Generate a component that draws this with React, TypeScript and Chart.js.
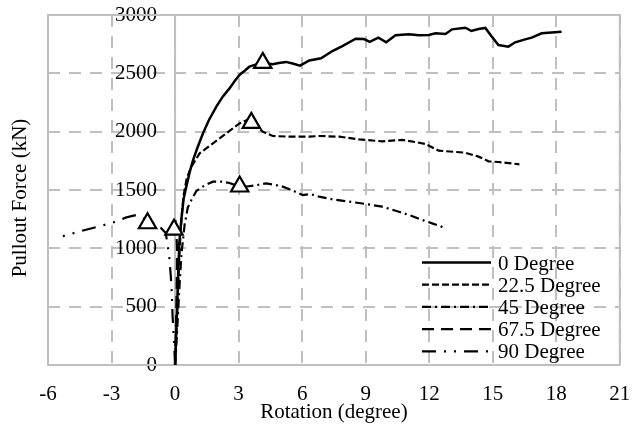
import React, { useEffect, useRef } from 'react';
import { Chart, registerables } from 'chart.js';

Chart.register(...registerables);

const X_MIN = -6;
const X_MAX = 21;
const X_STEP = 3;
const Y_MIN = 0;
const Y_MAX = 3000;
const Y_STEP = 500;

const xTitle = 'Rotation (degree)';
const yTitle = 'Pullout Force (kN)';
const seriesNames = ['0 Degree', '22.5 Degree', '45 Degree', '67.5 Degree', '90 Degree'];

const rot0 = [0, 0.05, 0.1, 0.15, 0.2, 0.3, 0.4, 0.53, 0.7, 0.85, 1.05, 1.32, 1.6, 1.95, 2.25, 2.57, 2.8, 3.04, 3.3, 3.51, 3.8, 4.14, 4.61, 4.9, 5.24, 5.55, 5.9, 6.34, 6.89, 7.43, 7.9, 8.53, 8.92, 9.19, 9.6, 9.97, 10.41, 11.04, 11.51, 11.98, 12.3, 12.77, 13.08, 13.71, 13.99, 14.33, 14.65, 14.96, 15.27, 15.74, 16.06, 16.53, 16.84, 17.31, 17.78, 18.25];
const force0 = [0, 250, 500, 800, 1050, 1250, 1420, 1529, 1660, 1757, 1860, 1986, 2100, 2214, 2300, 2371, 2430, 2486, 2525, 2557, 2575, 2590, 2578, 2588, 2598, 2584, 2566, 2610, 2629, 2691, 2734, 2797, 2794, 2769, 2806, 2766, 2826, 2834, 2826, 2829, 2843, 2837, 2877, 2891, 2863, 2880, 2889, 2814, 2743, 2729, 2766, 2791, 2806, 2843, 2851, 2857];

const rot22 = [0, 0.08, 0.15, 0.22, 0.3, 0.4, 0.55, 0.77, 1.16, 1.79, 2.42, 3.04, 3.4, 3.8, 4.14, 4.61, 5.4, 6.34, 6.8, 7.75, 8.69, 9.78, 10.73, 11.35, 11.83, 12.45, 13.7, 14.33, 14.8, 15.27, 16.26];
const force22 = [0, 350, 700, 1000, 1250, 1450, 1600, 1700, 1814, 1900, 1986, 2071, 2100, 2060, 2000, 1963, 1957, 1957, 1963, 1957, 1934, 1917, 1929, 1911, 1894, 1837, 1820, 1786, 1746, 1740, 1720];

const rot45 = [0, 0.1, 0.2, 0.3, 0.45, 0.6, 0.77, 1.0, 1.4, 1.79, 2.2, 2.57, 3.04, 3.4, 3.8, 4.3, 4.7, 5.08, 5.5, 6.02, 6.4, 6.8, 7.43, 8.22, 9.0, 9.78, 10.57, 11.04, 11.67, 12.14, 12.45, 12.77];
const force45 = [0, 300, 650, 950, 1200, 1350, 1414, 1490, 1540, 1571, 1571, 1560, 1529, 1530, 1540, 1557, 1545, 1529, 1500, 1457, 1465, 1443, 1420, 1400, 1380, 1357, 1314, 1286, 1243, 1214, 1195, 1171];

const rot67 = [0, 0.04, 0.07, 0.09, 0.09, 0.07, 0.03, 0.0];
const force67 = [0, 300, 600, 850, 1000, 1100, 1200, 1290];

const rot90 = [0, -0.05, -0.12, -0.15, -0.2, -0.27, -0.33, -0.44, -0.8, -1.3, -1.82, -2.3, -2.92, -3.54, -4.4, -5.11, -5.66];
const force90 = [0, 200, 430, 600, 760, 917, 1000, 1131, 1200, 1240, 1286, 1265, 1222, 1190, 1150, 1114, 1086];

const peakRot = [4.14, 3.6, 3.05, -0.05, -1.3];
const peakForce = [2590, 2075, 1530, 1160, 1215];

const rotSeries = [rot0, rot22, rot45, rot67, rot90];
const forceSeries = [force0, force22, force45, force67, force90];

const FONT = 'Liberation Serif';
const GRID = '#BFBFBF';
const GRID_DASH = [12, 9];
// y tick labels sit just left of the x = 0 axis line
const Y_LABEL_ANCHOR = -0.85;
const lineStyles = [
  { dash: [] as number[], width: 2.5 },
  { dash: [7, 3], width: 2.2 },
  { dash: [9, 4, 2, 4], width: 2.2 },
  { dash: [12, 7], width: 2.2 },
  { dash: [14, 8, 2, 8, 2, 8], width: 2.2 },
];

const framePlugin = {
  id: 'frame',
  beforeDatasetsDraw(chart: any) {
    const { ctx, chartArea } = chart;
    const { left, right, top, bottom } = chartArea;
    ctx.save();
    ctx.strokeStyle = GRID;
    ctx.lineWidth = 2;
    ctx.setLineDash([]);
    ctx.strokeRect(left, top, right - left, bottom - top);
    const x0 = chart.scales.x.getPixelForValue(0);
    ctx.beginPath();
    ctx.moveTo(x0, top);
    ctx.lineTo(x0, bottom);
    ctx.stroke();
    ctx.restore();
  },
};

const titlesPlugin = {
  id: 'titles',
  afterDraw(chart: any) {
    const { ctx, chartArea } = chart;
    ctx.save();
    ctx.fillStyle = '#000';
    ctx.font = `21px "${FONT}"`;
    ctx.textAlign = 'center';
    ctx.textBaseline = 'alphabetic';
    ctx.fillText(xTitle, (chartArea.left + chartArea.right) / 2, 418);
    ctx.translate(26, 198);
    ctx.rotate(-Math.PI / 2);
    ctx.fillText(yTitle, 0, 0);
    ctx.restore();
  },
};

const legendPlugin = {
  id: 'customLegend',
  afterDatasetsDraw(chart: any) {
    const { ctx } = chart;
    const x1 = 422;
    const x2 = 491;
    const y0 = 262.5;
    const dy = 22.2;
    ctx.save();
    ctx.font = `21px "${FONT}"`;
    ctx.textAlign = 'left';
    ctx.textBaseline = 'alphabetic';
    seriesNames.forEach((name, i) => {
      const y = y0 + i * dy;
      const st = lineStyles[i];
      ctx.strokeStyle = '#000';
      ctx.lineWidth = st.width;
      ctx.setLineDash(st.dash);
      ctx.beginPath();
      ctx.moveTo(x1, y);
      ctx.lineTo(x2, y);
      ctx.stroke();
      ctx.setLineDash([]);
      ctx.fillStyle = '#000';
      ctx.fillText(name, 498, y + 7);
    });
    ctx.restore();
  },
};

export default function App() {
  const canvasRef = useRef<HTMLCanvasElement | null>(null);

  useEffect(() => {
    document.body.style.margin = '0';
    const canvas = canvasRef.current;
    if (!canvas) return;

    const lineDatasets = seriesNames.map((name, i) => ({
      type: 'scatter' as const,
      label: name,
      data: rotSeries[i].map((r, j) => ({ x: r, y: forceSeries[i][j] })),
      showLine: true,
      borderColor: '#000',
      backgroundColor: '#000',
      borderWidth: lineStyles[i].width,
      borderDash: lineStyles[i].dash,
      pointRadius: 0,
      fill: false,
      tension: 0,
      order: 1,
    }));

    const markerDataset = {
      type: 'scatter' as const,
      label: 'peaks',
      data: peakRot.map((r, j) => ({ x: r, y: peakForce[j] })),
      showLine: false,
      pointStyle: 'triangle',
      pointRadius: 10,
      borderColor: '#000',
      backgroundColor: '#fff',
      borderWidth: 2.2,
      order: -1,
    };

    const chart = new Chart(canvas, {
      type: 'scatter',
      data: { datasets: [markerDataset as any, ...lineDatasets] },
      options: {
        animation: false,
        responsive: false,
        events: [],
        layout: { padding: { left: 48, right: 10, top: 15, bottom: 0 } },
        plugins: {
          legend: { display: false },
          tooltip: { enabled: false },
        },
        scales: {
          x: {
            type: 'linear',
            position: 'bottom',
            min: X_MIN,
            max: X_MAX,
            ticks: {
              stepSize: X_STEP,
              color: '#000',
              padding: 17,
              font: { family: FONT, size: 21 },
              callback: (v: any) => String(v),
            },
            grid: { color: GRID, lineWidth: 2, drawTicks: false },
            border: { display: false, dash: GRID_DASH },
            afterFit: (scale: any) => {
              scale.height = 63;
              scale.paddingLeft = 0;
              scale.paddingRight = 0;
            },
          },
          y: {
            type: 'linear',
            position: { x: Y_LABEL_ANCHOR } as any,
            min: Y_MIN,
            max: Y_MAX,
            ticks: {
              stepSize: Y_STEP,
              color: '#000',
              padding: 0,
              font: { family: FONT, size: 21 },
              callback: (v: any) => String(v),
            },
            grid: { color: GRID, lineWidth: 2, drawTicks: false },
            border: { display: false, dash: GRID_DASH },
            afterFit: (scale: any) => {
              scale.paddingTop = 0;
              scale.paddingBottom = 0;
            },
          },
        },
      },
      plugins: [framePlugin, legendPlugin, titlesPlugin],
    });

    return () => chart.destroy();
  }, []);

  return (
    <div style={{ width: 632, height: 428 }}>
      <canvas ref={canvasRef} width={632} height={428} style={{ display: 'block' }} />
    </div>
  );
}
